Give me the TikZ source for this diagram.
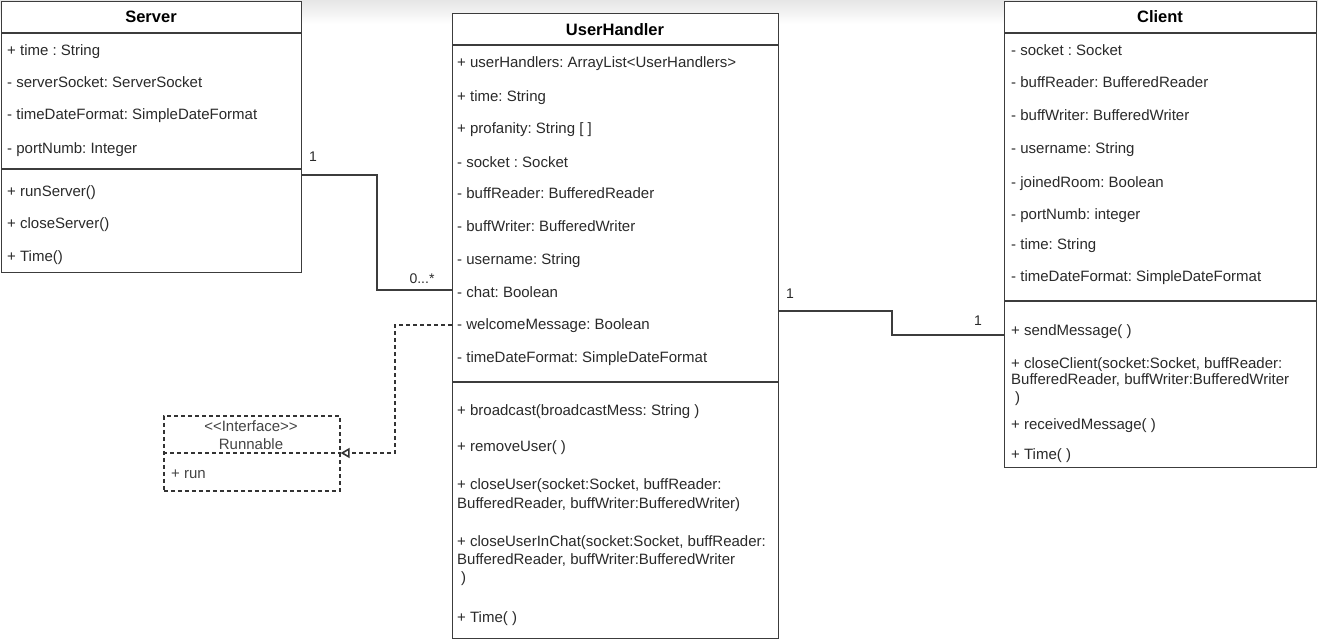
\documentclass[tikz,border=0pt]{standalone}
\usepackage{fontspec}
\setmainfont[Ligatures=NoCommon]{Liberation Sans}
\usetikzlibrary{arrows.meta}
\definecolor{linec}{HTML}{3C3C3C}
\definecolor{dashc}{HTML}{333333}
\definecolor{textc}{HTML}{2A2A2A}
\definecolor{softc}{HTML}{444444}
\frenchspacing
\begin{document}
\begin{tikzpicture}[x=1pt,y=-1pt,
  classbox/.style={draw=linec, line width=1.3pt, fill=white, anchor=north west, inner sep=0pt},
  dashbox/.style={draw=dashc, line width=1.6pt, fill=white, anchor=north west, inner sep=0pt, dash pattern=on 4pt off 3pt},
  sepline/.style={draw=linec, line width=1.3pt},
  dsepline/.style={draw=dashc, line width=1.6pt, dash pattern=on 4pt off 3pt},
  txt/.style={anchor=base west, inner sep=0pt, font=\fontsize{15}{18}\selectfont, text=textc},
  ctxt/.style={anchor=base, inner sep=0pt, font=\fontsize{15}{18}\selectfont, text=softc},
  ttl/.style={anchor=base, inner sep=0pt, font=\fontsize{16.5}{20}\bfseries\selectfont, text=black},
  lbl/.style={anchor=base, inner sep=0pt, font=\fontsize{14}{16}\selectfont, text=textc},
  conn/.style={draw=linec, line width=1.3pt},
  realize/.style={draw=dashc, line width=1.6pt, dash pattern=on 4pt off 3pt, -{Triangle[open, length=9pt, width=10pt, fill=white]}}
]
\useasboundingbox (0,0) rectangle (1318,642);
\shade[top color=black!10, bottom color=white] (0,0) rectangle (1318,24);

% ---------- Server ----------
\node[classbox, minimum width=300pt, minimum height=271pt] (server) at (1,1) {};
\draw[sepline] (server.west |- 0,33) -- (server.east |- 0,33);
\draw[sepline] (server.west |- 0,169) -- (server.east |- 0,169);
\node[ttl] (serverT) at (151,23) {Server};
\node[txt] (s1) at (7,56) {+ time : String};
\node[txt] (s2) at (7,88) {- serverSocket: ServerSocket};
\node[txt] (s3) at (7,120) {- timeDateFormat: SimpleDateFormat};
\node[txt] (s4) at (7,153) {- portNumb: Integer};
\node[txt] (s5) at (7,196) {+ runServer()};
\node[txt] (s6) at (7,228) {+ closeServer()};
\node[txt] (s7) at (7,261) {+ Time()};

% ---------- UserHandler ----------
\node[classbox, minimum width=326pt, minimum height=625pt] (uh) at (452,13) {};
\draw[sepline] (uh.west |- 0,45) -- (uh.east |- 0,45);
\draw[sepline] (uh.west |- 0,382) -- (uh.east |- 0,382);
\node[ttl] (uhT) at (615,36) {UserHandler};
\node[txt] (u1) at (457,68) {+ userHandlers: ArrayList<UserHandlers>};
\node[txt] (u2) at (457,101) {+ time: String};
\node[txt] (u3) at (457,133) {+ profanity: String [ ]};
\node[txt] (u4) at (457,167) {- socket : Socket};
\node[txt] (u5) at (457,198) {- buffReader: BufferedReader};
\node[txt] (u6) at (457,231) {- buffWriter: BufferedWriter};
\node[txt] (u7) at (457,264) {- username: String};
\node[txt] (u8) at (457,297) {- chat: Boolean};
\node[txt] (u9) at (457,329) {- welcomeMessage: Boolean};
\node[txt] (u10) at (457,362) {- timeDateFormat: SimpleDateFormat};
\node[txt] (m1) at (457,415) {+ broadcast(broadcastMess: String )};
\node[txt] (m2) at (457,451) {+ removeUser( )};
\node[txt] (m3a) at (457,489) {+ closeUser(socket:Socket, buffReader:};
\node[txt] (m3b) at (457,508) {BufferedReader, buffWriter:BufferedWriter)};
\node[txt] (m4a) at (457,546) {+ closeUserInChat(socket:Socket, buffReader:};
\node[txt] (m4b) at (457,564) {BufferedReader, buffWriter:BufferedWriter};
\node[txt] (m4c) at (461,582) {)};
\node[txt] (m5) at (457,622) {+ Time( )};

% ---------- Client ----------
\node[classbox, minimum width=312pt, minimum height=466pt] (client) at (1004,1) {};
\draw[sepline] (client.west |- 0,33) -- (client.east |- 0,33);
\draw[sepline] (client.west |- 0,301) -- (client.east |- 0,301);
\node[ttl] (clientT) at (1160,23) {Client};
\node[txt] (c1) at (1011,56) {- socket : Socket};
\node[txt] (c2) at (1011,88) {- buffReader: BufferedReader};
\node[txt] (c3) at (1011,121) {- buffWriter: BufferedWriter};
\node[txt] (c4) at (1011,153) {- username: String};
\node[txt] (c5) at (1011,187) {- joinedRoom: Boolean};
\node[txt] (c6) at (1011,219) {- portNumb: integer};
\node[txt] (c7) at (1011,249) {- time: String};
\node[txt] (c8) at (1011,281) {- timeDateFormat: SimpleDateFormat};
\node[txt] (cm1) at (1011,335) {+ sendMessage( )};
\node[txt] (cm2a) at (1011,368) {+ closeClient(socket:Socket, buffReader:};
\node[txt] (cm2b) at (1011,384) {BufferedReader, buffWriter:BufferedWriter};
\node[txt] (cm2c) at (1015,402) {)};
\node[txt] (cm3) at (1011,429) {+ receivedMessage( )};
\node[txt] (cm4) at (1011,459) {+ Time( )};

% ---------- Runnable ----------
\node[dashbox, minimum width=176pt, minimum height=75pt] (run) at (163,415) {};
\draw[dsepline] (run.west |- 0,453) -- (run.east |- 0,453);
\node[ctxt] (runS) at (251,431) {<{}<Interface>{}>};
\node[ctxt] (runT) at (251,449) {Runnable};
\node[txt, text=softc] (runM) at (171,478) {+ run};

% ---------- Connectors ----------
\draw[conn] (server.east |- 0,175) -- (377,175) -- (377,290) -- (uh.west |- 0,290);
\node[lbl] (l1) at (313,161) {1};
\node[lbl] (l2) at (422,283) {0...*};

\draw[conn] (uh.east |- 0,311) -- (892,311) -- (892,335) -- (client.west |- 0,335);
\node[lbl] (l3) at (790,298) {1};
\node[lbl] (l4) at (978,325) {1};

\draw[realize] (uh.west |- 0,325) -- (395,325) -- (395,453) -- (run.east |- 0,453);
\end{tikzpicture}
\end{document}
